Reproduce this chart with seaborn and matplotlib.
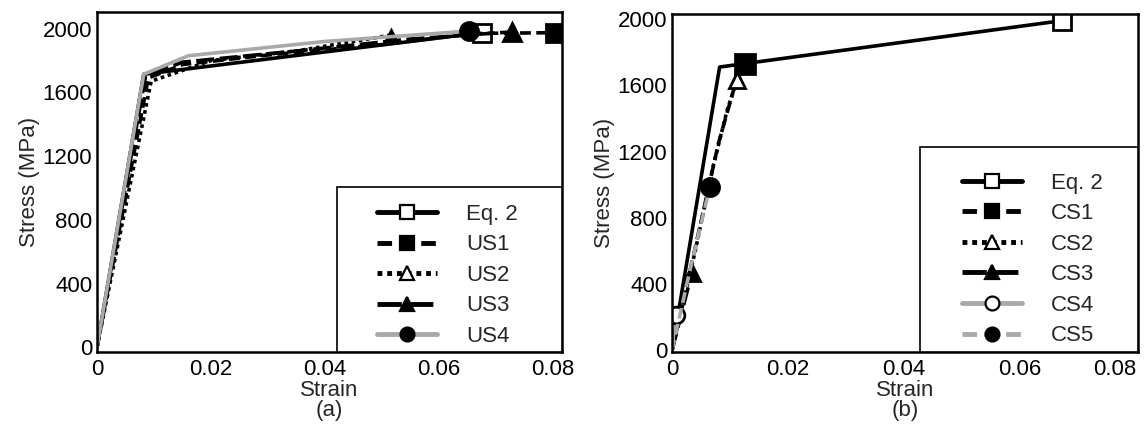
import numpy as np
import pandas as pd
import matplotlib.pyplot as plt
import seaborn as sns
from matplotlib.lines import Line2D
from matplotlib.patches import Rectangle

sns.set_style('white')
plt.rcParams['font.family'] = ['Liberation Sans', 'DejaVu Sans']

# (a) uniaxial specimens
eq2_a_x = [0, 0.0082, 0.0675]
eq2_a_y = [0, 1714, 1975]
us1_x = [0, 0.009, 0.015, 0.03, 0.05, 0.066, 0.0803]
us1_y = [0, 1690, 1775, 1835, 1900, 1970, 1975]
us2_x = [0, 0.0095, 0.02, 0.035, 0.0516]
us2_y = [0, 1670, 1800, 1860, 1960]
us3_x = [0, 0.0085, 0.015, 0.035, 0.055, 0.0728]
us3_y = [0, 1700, 1790, 1860, 1935, 1980]
us4_x = [0, 0.0082, 0.016, 0.04, 0.0652]
us4_y = [0, 1714, 1830, 1920, 1985]

# (b) compression specimens
eq2_b_x = [0, 0.0082, 0.0672]
eq2_b_y = [0, 1710, 1990]
cs1_x = [0, 0.004, 0.008, 0.011, 0.0125]
cs1_y = [0, 620, 1250, 1620, 1730]
cs2_x = [0, 0.004, 0.007, 0.0095, 0.0112]
cs2_y = [0, 600, 1100, 1450, 1630]
cs3_x = [0, 0.0034]
cs3_y = [0, 465]
cs4_x = [0, 0.0006]
cs4_y = [0, 215]
cs5_x = [0, 0.003, 0.0065]
cs5_y = [0, 470, 985]

ticks_x = [0, 0.02, 0.04, 0.06, 0.08]
tick_x_labels = ['0', '0.02', '0.04', '0.06', '0.08']
ticks_y = [0, 400, 800, 1200, 1600, 2000]

black = '#000000'
gray = '#a9a9a9'
FS = 16

series_a = [
    ('Eq. 2', eq2_a_x, eq2_a_y, black, '-', 's', 'white', 13),
    ('US1', us1_x, us1_y, black, (0, (3, 1.5)), 's', black, 13),
    ('US2', us2_x, us2_y, black, (0, (1, 1)), '^', black, 7),
    ('US3', us3_x, us3_y, black, (0, (5, 1.5)), '^', black, 13),
    ('US4', us4_x, us4_y, gray, '-', 'o', black, 13),
]
series_b = [
    ('Eq. 2', eq2_b_x, eq2_b_y, black, '-', 's', 'white', 13),
    ('CS1', cs1_x, cs1_y, black, (0, (3, 1.5)), 's', black, 14),
    ('CS2', cs2_x, cs2_y, black, (0, (1, 1)), '^', 'white', 11),
    ('CS3', cs3_x, cs3_y, black, (0, (5, 1.5)), '^', black, 11),
    ('CS4', cs4_x, cs4_y, gray, '-', 'o', 'white', 12),
    ('CS5', cs5_x, cs5_y, gray, (0, (3, 1.5)), 'o', black, 13),
]
legend_fill = {'US2': 'white'}

fig = plt.figure(figsize=(11.48, 4.42), dpi=100)
ax1 = fig.add_axes([0.0845, 0.2036, 0.405, 0.7693])
ax2 = fig.add_axes([0.5854, 0.2036, 0.4059, 0.7647])


def draw(ax, series, xmax, ymin, ymax, tag, box, anchor):
    handles = []
    for name, xs, ys, col, ls, mk, fc, ms in series:
        sns.lineplot(x=xs, y=ys, ax=ax, sort=False, estimator=None,
                     color=col, linestyle=ls, lw=2.6, marker=mk, markevery=[len(xs) - 1],
                     ms=ms, mfc=fc, mec=black, mew=2)
        handles.append(Line2D([], [], color=col, linestyle=ls, lw=3.5, marker=mk,
                              ms=10, mfc=legend_fill.get(name, fc), mec=black, mew=1.6,
                              label=name))
    ax.set_xlim(0, xmax)
    ax.set_ylim(ymin, ymax)
    ax.set_xticks(ticks_x)
    ax.set_xticklabels(tick_x_labels)
    ax.set_yticks(ticks_y)
    ax.tick_params(direction='in', length=5, width=1.5, labelsize=FS, colors=black)
    ax.tick_params(axis='x', pad=5)
    for s in ax.spines.values():
        s.set_color(black)
        s.set_linewidth(1.8)
    ax.set_xlabel('Strain\n(' + tag + ')', fontsize=FS, labelpad=0, linespacing=0.95)
    ax.set_ylabel('Stress (MPa)', fontsize=FS, labelpad=2)
    ax.add_patch(Rectangle((box[0], 0), 1 - box[0], box[1], transform=ax.transAxes,
                           facecolor='white', edgecolor=black, lw=1.2, zorder=4,
                           clip_on=False))
    leg = ax.legend(handles=handles, loc='upper left', bbox_to_anchor=anchor,
                    borderaxespad=0, borderpad=0, frameon=False,
                    fontsize=FS, handlelength=2.7, handletextpad=1.3,
                    labelspacing=0.43, numpoints=1)
    leg.set_zorder(5)


draw(ax1, series_a, 0.0816, -30, 2105, 'a', (0.516, 0.485), (0.602, 0.436))
draw(ax2, series_b, 0.0803, -10, 2030, 'b', (0.532, 0.607), (0.622, 0.531))
ax2.get_xticklabels()[-1].set_ha('right')

fig.savefig('out.png', dpi=100)
